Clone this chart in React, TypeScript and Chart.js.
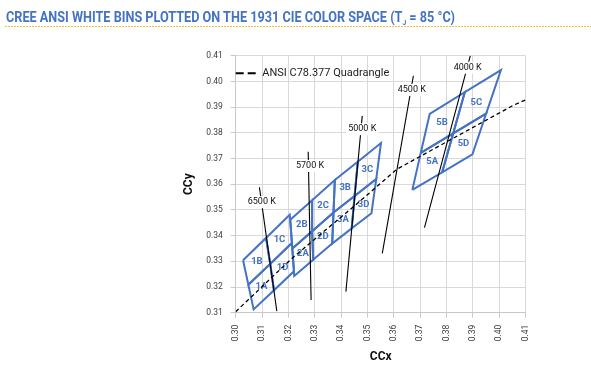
import React, { useEffect, useLayoutEffect, useRef } from 'react';
import { Chart, registerables } from 'chart.js';

Chart.register(...registerables);

const BLUE = '#4472C4';

// axis ranges
const xMin = 0.30;
const xMax = 0.41;
const yMin = 0.31;
const yMax = 0.41;
const tickStep = 0.01;

// Cree ANSI sub-bins: corner points [x, y]
const binNames = ['1A', '1B', '1C', '1D', '2A', '2B', '2C', '2D', '3A', '3B', '3C', '3D', '5A', '5B', '5C', '5D'];
const binCorners: number[][][] = [
  [[0.3048, 0.3209], [0.3068, 0.3113], [0.3145, 0.3187], [0.3131, 0.3290]],
  [[0.3028, 0.3304], [0.3048, 0.3209], [0.3131, 0.3290], [0.3115, 0.3391]],
  [[0.3115, 0.3391], [0.3131, 0.3290], [0.3213, 0.3371], [0.3205, 0.3481]],
  [[0.3131, 0.3290], [0.3145, 0.3187], [0.3221, 0.3261], [0.3213, 0.3371]],
  [[0.3215, 0.3350], [0.3222, 0.3243], [0.3294, 0.3306], [0.3290, 0.3417]],
  [[0.3207, 0.3462], [0.3215, 0.3350], [0.3290, 0.3417], [0.3290, 0.3538]],
  [[0.3290, 0.3538], [0.3290, 0.3417], [0.3371, 0.3490], [0.3376, 0.3616]],
  [[0.3290, 0.3417], [0.3294, 0.3306], [0.3366, 0.3369], [0.3371, 0.3490]],
  [[0.3371, 0.3490], [0.3366, 0.3369], [0.3440, 0.3428], [0.3451, 0.3554]],
  [[0.3376, 0.3616], [0.3371, 0.3490], [0.3451, 0.3554], [0.3463, 0.3687]],
  [[0.3463, 0.3687], [0.3451, 0.3554], [0.3533, 0.3620], [0.3551, 0.3760]],
  [[0.3451, 0.3554], [0.3440, 0.3428], [0.3515, 0.3487], [0.3533, 0.3620]],
  [[0.3670, 0.3578], [0.3702, 0.3722], [0.3825, 0.3798], [0.3783, 0.3646]],
  [[0.3702, 0.3722], [0.3736, 0.3874], [0.3869, 0.3958], [0.3825, 0.3798]],
  [[0.3825, 0.3798], [0.3869, 0.3958], [0.4006, 0.4044], [0.3950, 0.3875]],
  [[0.3783, 0.3646], [0.3825, 0.3798], [0.3950, 0.3875], [0.3898, 0.3716]],
];

// black-body (dashed) curve
const locusLabel = 'ANSI C78.377 Quadrangle';
const locusX = [0.3000, 0.3064, 0.3135, 0.3221, 0.3325, 0.3451, 0.3611, 0.3804, 0.4053, 0.4100];
const locusY = [0.3104, 0.3166, 0.3236, 0.3318, 0.3408, 0.3516, 0.3658, 0.3767, 0.3907, 0.3928];

// CCT isotemperature lines
const cctNames = ['6500 K', '5700 K', '5000 K', '4500 K', '4000 K'];
const cctLineX = [[0.3090, 0.3156], [0.3275, 0.3286], [0.3480, 0.3418], [0.3674, 0.3556], [0.3890, 0.3716]];
const cctLineY = [[0.3588, 0.3106], [0.3726, 0.3149], [0.3866, 0.3182], [0.4022, 0.3331], [0.4100, 0.3431]];
const cctLabelX = [0.3099, 0.3282, 0.3480, 0.3668, 0.3880];
const cctLabelY = [0.3530, 0.3671, 0.3814, 0.3967, 0.4053];

const annotPlugin = {
  id: 'annot',
  beforeDatasetsDraw(chart: any) {
    const { ctx, scales } = chart;
    const xs = scales.x;
    const ys = scales.y;
    ctx.save();
    ctx.font = 'bold 9.5px Roboto';
    ctx.fillStyle = BLUE;
    ctx.textAlign = 'center';
    ctx.textBaseline = 'middle';
    binCorners.forEach((pts, i) => {
      let cx = 0;
      let cy = 0;
      pts.forEach((p) => {
        cx += p[0];
        cy += p[1];
      });
      cx /= pts.length;
      cy /= pts.length;
      ctx.fillText(binNames[i], xs.getPixelForValue(cx), ys.getPixelForValue(cy));
    });
    ctx.restore();
  },
  afterDatasetsDraw(chart: any) {
    const { ctx, scales, chartArea } = chart;
    const xs = scales.x;
    const ys = scales.y;
    ctx.save();
    ctx.font = '9px Roboto';
    ctx.textAlign = 'center';
    ctx.textBaseline = 'middle';
    cctNames.forEach((name, i) => {
      const px = xs.getPixelForValue(cctLabelX[i]);
      const py = ys.getPixelForValue(cctLabelY[i]);
      const w = ctx.measureText(name).width;
      ctx.fillStyle = '#ffffff';
      ctx.fillRect(px - w / 2 - 2, py - 6, w + 4, 12);
      ctx.fillStyle = '#111111';
      ctx.fillText(name, px, py);
    });
    // legend
    const ly = chartArea.top + 17.5;
    const lx = chartArea.left;
    ctx.strokeStyle = '#000000';
    ctx.lineWidth = 2;
    ctx.setLineDash([8, 4]);
    ctx.beginPath();
    ctx.moveTo(lx, ly);
    ctx.lineTo(lx + 21, ly);
    ctx.stroke();
    ctx.setLineDash([]);
    ctx.font = '11px Roboto';
    ctx.textAlign = 'left';
    ctx.fillStyle = '#222222';
    ctx.fillText(locusLabel, lx + 26.5, ly);
    ctx.restore();
  },
};

function ChartView() {
  const canvasRef = useRef<HTMLCanvasElement | null>(null);

  useEffect(() => {
    const canvas = canvasRef.current;
    if (!canvas) return;

    const datasets: any[] = [];
    datasets.push({
      label: locusLabel,
      data: locusX.map((x, i) => ({ x, y: locusY[i] })),
      showLine: true,
      borderColor: '#000000',
      borderWidth: 1.3,
      borderDash: [4, 3],
      pointRadius: 0,
      fill: false,
    });
    cctNames.forEach((name, i) => {
      datasets.push({
        label: name,
        data: cctLineX[i].map((x, j) => ({ x, y: cctLineY[i][j] })),
        showLine: true,
        borderColor: '#000000',
        borderWidth: 1.1,
        pointRadius: 0,
        fill: false,
      });
    });
    binCorners.forEach((pts, i) => {
      const closed = pts.concat([pts[0]]);
      datasets.push({
        label: binNames[i],
        data: closed.map((p) => ({ x: p[0], y: p[1] })),
        showLine: true,
        borderColor: BLUE,
        borderWidth: 2,
        pointRadius: 0,
        fill: false,
      });
    });

    const chart = new Chart(canvas, {
      type: 'scatter',
      data: { datasets },
      plugins: [annotPlugin],
      options: {
        animation: false,
        responsive: false,
        devicePixelRatio: 1,
        layout: { padding: { left: 182, top: 55.7, right: 65.3, bottom: 12.1 } },
        plugins: {
          legend: { display: false },
          tooltip: { enabled: false },
        },
        scales: {
          x: {
            type: 'linear',
            min: xMin,
            max: xMax,
            afterFit: (s: any) => {
              s.height = 51.2;
            },
            ticks: {
              stepSize: tickStep,
              autoSkip: false,
              minRotation: 90,
              maxRotation: 90,
              padding: 7,
              color: '#404040',
              font: { family: 'Roboto', size: 8.5 },
              callback: (v: any) => Number(v).toFixed(2),
            },
            grid: { color: '#d9d9d9', tickLength: 5, tickColor: '#c8c8c8' },
            border: { color: '#c8c8c8' },
            title: {
              display: true,
              text: 'CCx',
              color: '#111111',
              padding: 0,
              font: { family: 'Roboto', size: 12, weight: 'bold' },
            },
          },
          y: {
            type: 'linear',
            min: yMin,
            max: yMax,
            afterFit: (s: any) => {
              s.width = 53.7;
            },
            ticks: {
              stepSize: tickStep,
              autoSkip: false,
              padding: 8,
              color: '#404040',
              font: { family: 'Roboto', size: 8.5 },
              callback: (v: any) => Number(v).toFixed(2),
            },
            grid: { color: '#d9d9d9', tickLength: 5, tickColor: '#c8c8c8' },
            border: { color: '#c8c8c8' },
            title: {
              display: true,
              text: 'CCy',
              color: '#111111',
              padding: 0,
              font: { family: 'Roboto', size: 12, weight: 'bold' },
            },
          },
        },
      } as any,
    });

    return () => {
      chart.destroy();
    };
  }, []);

  return (
    <canvas
      ref={canvasRef}
      width={591}
      height={376}
      style={{ position: 'absolute', left: 0, top: 0, width: 591, height: 376 }}
    />
  );
}

function Title() {
  const spanRef = useRef<HTMLSpanElement | null>(null);
  useLayoutEffect(() => {
    const el = spanRef.current;
    if (!el) return;
    el.style.transform = 'none';
    const w = el.getBoundingClientRect().width;
    if (w > 0) el.style.transform = `scaleX(${449 / w})`;
  }, []);
  return (
    <div
      style={{
        position: 'absolute',
        left: 6,
        top: 10,
        whiteSpace: 'nowrap',
        fontFamily: 'Roboto',
        fontWeight: 700,
        fontSize: 15,
        lineHeight: '15px',
        color: BLUE,
      }}
    >
      <span ref={spanRef} style={{ display: 'inline-block', transformOrigin: 'left center' }}>
        CREE ANSI WHITE BINS PLOTTED ON THE 1931 CIE COLOR SPACE (T
        <span style={{ fontSize: 8, verticalAlign: -3 }}>J</span> = 85 °C)
      </span>
    </div>
  );
}

export default function App() {
  return (
    <div
      style={{
        position: 'fixed',
        left: 0,
        top: 0,
        width: 591,
        height: 376,
        background: '#ffffff',
        overflow: 'hidden',
      }}
    >
      <ChartView />
      <Title />
      <div
        style={{
          position: 'absolute',
          left: 5,
          right: 0,
          top: 26,
          height: 1,
          background: 'repeating-linear-gradient(90deg, #F2C232 0px, #F2C232 2px, transparent 2px, transparent 3px)',
        }}
      />
    </div>
  );
}
